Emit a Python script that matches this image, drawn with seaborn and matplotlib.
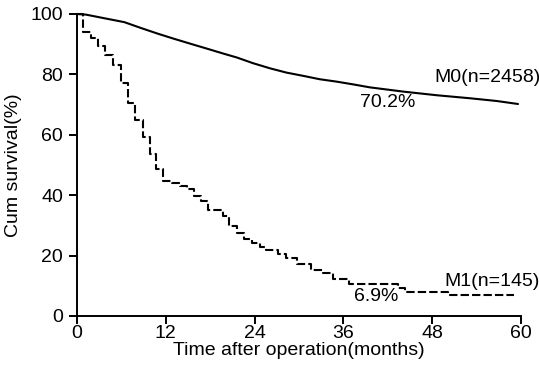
import numpy as np
import pandas as pd
import matplotlib
matplotlib.use("Agg")
import matplotlib.pyplot as plt
import seaborn as sns

# ---- data ----
m0_months = [0, 1.2, 4.1, 6.4, 8.6, 10.9, 13.1, 15.4, 17.6, 19.9, 21.6, 23.8,
             26.1, 28.3, 30.6, 32.8, 35.1, 37.3, 39.6, 44.1, 48.6, 53.1, 56.7, 59.6]
m0_surv = [100, 99.8, 98.4, 97.3, 95.4, 93.5, 91.8, 90.1, 88.5, 86.8, 85.6, 83.7,
           82.0, 80.6, 79.5, 78.4, 77.6, 76.7, 75.7, 74.3, 73.1, 72.1, 71.2, 70.2]

m1_months = [0, 0.85, 1.85, 2.9, 3.8, 4.8, 5.9, 6.9, 7.8, 8.9, 9.8, 10.7, 11.6,
             12.8, 13.9, 14.8, 15.8, 16.8, 17.7, 19.7, 20.6, 21.6, 22.6, 23.6,
             24.7, 25.6, 27.2, 28.3, 29.7, 31.6, 33.3, 34.6, 36.7, 43.4, 44.3,
             50.2, 59.0]
m1_surv = [100, 94.1, 91.9, 89.5, 86.4, 83.1, 77.3, 70.4, 64.9, 59.4, 53.8, 48.7,
           44.6, 43.9, 43.0, 41.9, 39.6, 38.0, 35.2, 33.2, 29.9, 27.5, 25.5, 24.2,
           23.0, 21.7, 20.6, 19.2, 17.3, 15.3, 14.2, 12.2, 10.5, 9.2, 8.1,
           6.9, 6.9]

x_ticks = [0, 12, 24, 36, 48, 60]
y_ticks = [0, 20, 40, 60, 80, 100]
label_m0 = "M0(n=2458)"
label_m1 = "M1(n=145)"
final_m0 = "70.2%"
final_m1 = "6.9%"

sns.set_style("ticks")
plt.rcParams['font.family'] = ['Liberation Sans', 'DejaVu Sans']
plt.rcParams['text.color'] = 'black'
plt.rcParams['axes.labelcolor'] = 'black'

FS = 14

fig = plt.figure(figsize=(5.39, 3.76), dpi=100)
ax = fig.add_axes([77/539, 1-316/376, (521-77)/539, (316-14)/376])

df0 = pd.DataFrame({"t": m0_months, "s": m0_surv})
df1 = pd.DataFrame({"t": m1_months, "s": m1_surv})

sns.lineplot(data=df0, x="t", y="s", ax=ax, color="black", lw=1.5,
             estimator=None, sort=False, clip_on=False)
sns.lineplot(data=df1, x="t", y="s", ax=ax, color="black", lw=1.5,
             estimator=None, sort=False, drawstyle="steps-post", clip_on=False)
ax.lines[-1].set_dashes((4.0, 1.5))

ax.set_xlim(0, 60)
ax.set_ylim(0, 100)
ax.set_xticks(x_ticks)
ax.set_yticks(y_ticks)
sns.despine(ax=ax)
for sp in ["left", "bottom"]:
    ax.spines[sp].set_linewidth(1.4)
    ax.spines[sp].set_color("black")
ax.tick_params(axis="both", direction="out", length=5.5, width=1.4,
               labelsize=FS, colors="black")
ax.tick_params(axis="x", pad=1)
ax.tick_params(axis="y", pad=4.5)
ax.set_xlabel("Time after operation(months)", fontsize=FS, labelpad=0)
ax.set_ylabel("Cum survival(%)", fontsize=FS, labelpad=6)

ax.text(62.6, 79.0, label_m0, fontsize=FS, ha="right", va="center", clip_on=False)
ax.text(42.0, 70.6, final_m0, fontsize=FS, ha="center", va="center")
ax.text(62.6, 11.3, label_m1, fontsize=FS, ha="right", va="center", clip_on=False)
ax.text(40.4, 6.3, final_m1, fontsize=FS, ha="center", va="center")

fig.savefig("out.png", dpi=100)
